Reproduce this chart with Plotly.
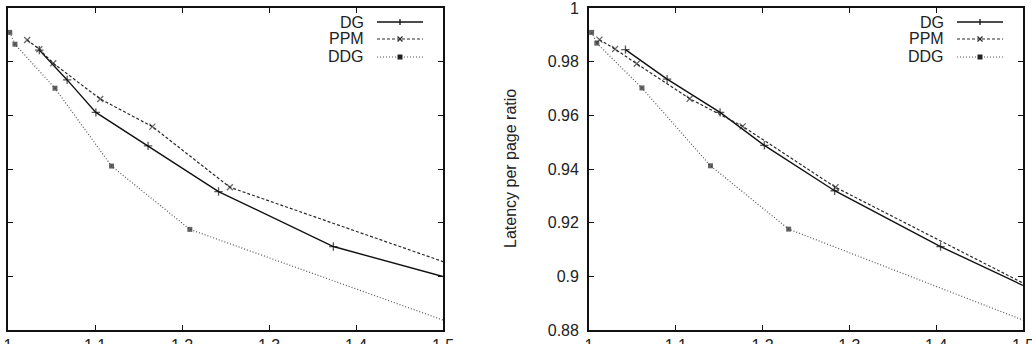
import plotly.graph_objects as go
from plotly.subplots import make_subplots

# ---- data ----
x_ticks = [1.0, 1.1, 1.2, 1.3, 1.4, 1.5]
y_ticks = [0.88, 0.90, 0.92, 0.94, 0.96, 0.98, 1.0]

# left panel
dg_left_x = [1.036, 1.068, 1.101, 1.161, 1.242, 1.374, 1.5]
dg_left_y = [0.9843, 0.9732, 0.9611, 0.9486, 0.9316, 0.9111, 0.8999]
ppm_left_x = [1.022, 1.036, 1.052, 1.106, 1.166, 1.255, 1.5]
ppm_left_y = [0.9881, 0.9846, 0.9794, 0.9661, 0.9558, 0.9332, 0.9055]
ddg_left_x = [1.002, 1.008, 1.054, 1.119, 1.209, 1.5]
ddg_left_y = [0.9909, 0.9865, 0.9701, 0.9411, 0.9175, 0.8837]

# right panel
dg_right_x = [1.042, 1.090, 1.151, 1.202, 1.283, 1.405, 1.5]
dg_right_y = [0.9845, 0.9735, 0.9611, 0.9488, 0.9319, 0.9111, 0.8966]
ppm_right_x = [1.012, 1.030, 1.055, 1.116, 1.177, 1.284, 1.5]
ppm_right_y = [0.9882, 0.9847, 0.9792, 0.9662, 0.9559, 0.9332, 0.8975]
ddg_right_x = [1.003, 1.009, 1.061, 1.140, 1.230, 1.5]
ddg_right_y = [0.9909, 0.9869, 0.9702, 0.9412, 0.9176, 0.8837]

series_names = ["DG", "PPM", "DDG"]
y_title = "Latency per page ratio"

W, H = 1032, 344
FONT = "Liberation Sans, Arial, sans-serif"
FS = 16

styles = {
    "DG": dict(line=dict(color="#111111", width=1.4, dash="solid"),
               marker=dict(symbol="cross-thin", size=6, line=dict(color="#111111", width=1.3))),
    "PPM": dict(line=dict(color="#2a2a2a", width=1.2, dash="3px,2px"),
                marker=dict(symbol="x-thin", size=6, line=dict(color="#2a2a2a", width=1.3))),
    "DDG": dict(line=dict(color="#555555", width=1.2, dash="1px,2px"),
                marker=dict(symbol="square", size=5, color="#222222", line=dict(width=0))),
}

fig = make_subplots(rows=1, cols=2)

panels = [
    (1, [(dg_left_x, dg_left_y), (ppm_left_x, ppm_left_y), (ddg_left_x, ddg_left_y)]),
    (2, [(dg_right_x, dg_right_y), (ppm_right_x, ppm_right_y), (ddg_right_x, ddg_right_y)]),
]
for col, data in panels:
    for name, (xs, ys) in zip(series_names, data):
        st = styles[name]
        mk = dict(st["marker"])
        # the curve simply runs into the frame at the right edge (no symbol drawn there)
        mk["size"] = [st["marker"]["size"] if xv < 1.5 else 0 for xv in xs]
        fig.add_trace(go.Scatter(x=xs, y=ys, mode="lines+markers", name=name,
                                 line=st["line"], marker=mk,
                                 showlegend=False, cliponaxis=True),
                      row=1, col=col)

# panel domains (pixel-matched)
def px_x(p):
    return p / W

def px_y(p):
    return 1 - p / H

left_dom = [px_x(8), px_x(443)]
right_dom = [px_x(589), px_x(1023)]
y_dom = [px_y(330), px_y(8)]

axis_common = dict(showline=True, linewidth=1.8, linecolor="#111111", mirror="ticks",
                   ticks="inside", ticklen=5, tickwidth=1.2, tickcolor="#111111",
                   showgrid=False, zeroline=False, automargin=False,
                   ticklabeloverflow="allow",
                   tickfont=dict(family=FONT, size=FS, color="#222222"))

fig.update_xaxes(**axis_common, range=[1.0, 1.5], tickvals=x_ticks,
                 ticktext=[f"{v:g}" for v in x_ticks])
fig.update_yaxes(**axis_common, range=[0.88, 1.0], tickvals=y_ticks,
                 ticktext=[f"{v:g}" for v in y_ticks], ticklabelstandoff=5)
fig.update_layout(xaxis=dict(domain=left_dom), xaxis2=dict(domain=right_dom),
                  yaxis=dict(domain=y_dom, showticklabels=False),
                  yaxis2=dict(domain=y_dom))

# y-axis title for the right panel
fig.add_annotation(text=y_title, xref="paper", yref="paper",
                   x=px_x(510), y=(y_dom[0] + y_dom[1]) / 2, textangle=-90,
                   showarrow=False, font=dict(family=FONT, size=FS, color="#222222"),
                   xanchor="center", yanchor="middle")

# gnuplot-style key (text on the left, sample on the right)
key_rows = [22, 39, 57]
for frame_right in (443, 1023):
    text_end = frame_right - 77
    ls, le = frame_right - 66, frame_right - 20
    mid = (ls + le) / 2
    for name, ry in zip(series_names, key_rows):
        st = styles[name]
        fig.add_annotation(text=name, xref="paper", yref="paper",
                           x=px_x(text_end), y=px_y(ry), xanchor="right", yanchor="middle",
                           showarrow=False, font=dict(family=FONT, size=FS, color="#222222"))
        fig.add_shape(type="line", xref="paper", yref="paper",
                      x0=px_x(ls), x1=px_x(le), y0=px_y(ry), y1=px_y(ry),
                      line=dict(color=st["line"]["color"], width=st["line"]["width"],
                                dash=st["line"]["dash"]))
        if name == "DG":
            fig.add_shape(type="line", xref="paper", yref="paper",
                          x0=px_x(mid), x1=px_x(mid), y0=px_y(ry - 3), y1=px_y(ry + 3),
                          line=dict(color="#111111", width=1.3))
        elif name == "PPM":
            for d in (1, -1):
                fig.add_shape(type="line", xref="paper", yref="paper",
                              x0=px_x(mid - 2.5), x1=px_x(mid + 2.5),
                              y0=px_y(ry - 2.5 * d), y1=px_y(ry + 2.5 * d),
                              line=dict(color="#2a2a2a", width=1.3))
        else:
            fig.add_shape(type="rect", xref="paper", yref="paper",
                          x0=px_x(mid - 2.5), x1=px_x(mid + 2.5),
                          y0=px_y(ry + 2.5), y1=px_y(ry - 2.5),
                          fillcolor="#222222", line=dict(width=0))

fig.update_layout(width=W, height=H, margin=dict(l=0, r=0, t=0, b=0),
                  paper_bgcolor="white", plot_bgcolor="white",
                  font=dict(family=FONT, size=FS, color="#222222"),
                  template="none")

fig.write_html("out.html")
